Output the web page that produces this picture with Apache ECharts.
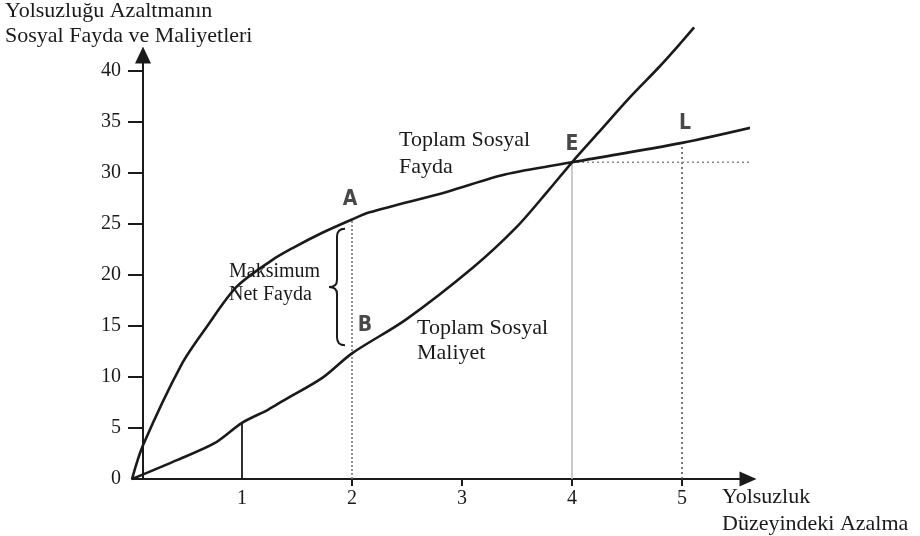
<!DOCTYPE html>
<html>
<head>
<meta charset="utf-8">
<script src="https://cdn.jsdelivr.net/npm/echarts@6/dist/echarts.min.js"></script>
<style>
  html, body { margin: 0; padding: 0; background: #fff; }
  #chart { width: 920px; height: 536px; }
</style>
</head>
<body>
<div id="chart"></div>
<script>
// tick labels
const xTickLabels = [1, 2, 3, 4, 5];
const xTickMarks = [2, 3, 4, 5];
const yTickLabels = [0, 5, 10, 15, 20, 25, 30, 35, 40];
const yTickMarks = [5, 10, 15, 20, 25, 30, 35, 40];

// curves
const totalBenefit = [
  [0, 0], [0.1, 3.3], [0.45, 11.2], [0.68, 14.9], [0.95, 18.8], [1.27, 21.4],
  [1.46, 22.6], [1.73, 24.1], [2, 25.4], [2.16, 26.1], [2.86, 28.1], [3.39, 29.8],
  [4, 31.0], [5, 32.9], [5.63, 34.4]
];
const totalCost = [
  [0, 0], [0.42, 1.9], [0.75, 3.5], [1, 5.5], [1.24, 6.8], [1.38, 7.7], [1.73, 9.9],
  [2, 12.3], [2.49, 15.6], [3.1, 20.7], [3.5, 24.7], [3.79, 28.3], [4, 31.0],
  [4.24, 33.9], [4.53, 37.4], [4.79, 40.3], [4.99, 42.7], [5.11, 44.2]
];

// guide lines
const guideAt1 = [[1, 0], [1, 5.5]];
const guideAtA = [[2, 0], [2, 25.4]];
const guideAtE = [[4, 0], [4, 31.0]];
const guideAtL = [[5, 0], [5, 32.9]];
const guideFromE = [[4, 31.0], [5.65, 31.0]];

// point letters
const pointNames = ['A', 'B', 'E', 'L'];
const pointValues = [[2, 25.4], [2, 12.3], [4, 31.0], [5, 32.9]];
const pointOffsets = [[-2, -20], [13, -28], [0, -18], [3, -19]];

// brace between A and B: [x, top, bottom]
const braceSpan = [2, 24.5, 13.1];

const serif = '"Liberation Serif", "DejaVu Serif", serif';
const ink = '#1a1a1a';

const chart = echarts.init(document.getElementById('chart'));

function guide(data, color, type, width) {
  return {
    type: 'line',
    data: data,
    symbol: 'none',
    silent: true,
    z: 1,
    clip: false,
    lineStyle: { color: color, type: type, width: width }
  };
}

chart.setOption({
  animation: false,
  grid: { left: 132, right: 172, top: 55, bottom: 57 },
  xAxis: {
    type: 'value',
    min: 0,
    max: 5.6,
    splitLine: { show: false },
    axisLine: {
      onZero: false,
      symbol: ['none', 'triangle'],
      symbolSize: [15, 17],
      lineStyle: { color: ink, width: 2 }
    },
    axisTick: { customValues: xTickMarks, length: 7, lineStyle: { color: ink, width: 2 } },
    axisLabel: {
      customValues: xTickLabels,
      margin: 10,
      color: ink,
      fontSize: 20,
      fontFamily: serif
    }
  },
  yAxis: {
    type: 'value',
    min: 0,
    max: 41.5,
    offset: -11,
    splitLine: { show: false },
    axisLine: {
      onZero: false,
      symbol: ['none', 'triangle'],
      symbolSize: [16, 17],
      lineStyle: { color: ink, width: 2 }
    },
    axisTick: { customValues: yTickMarks, length: 15, lineStyle: { color: ink, width: 2 } },
    axisLabel: {
      customValues: yTickLabels,
      margin: 22,
      color: ink,
      fontSize: 20,
      fontFamily: serif
    }
  },
  graphic: [
    { type: 'text', left: 5, top: -1, z: 1,
      style: { text: 'Yolsuzluğu Azaltmanın\nSosyal Fayda ve Maliyetleri', font: '22px ' + serif, lineHeight: 25, fill: ink } },
    { type: 'text', left: 722, top: 484, z: 1,
      style: { text: 'Yolsuzluk\nDüzeyindeki Azalma', font: '22px ' + serif, lineHeight: 27, fill: ink } },
    { type: 'text', left: 399, top: 127, z: 1,
      style: { text: 'Toplam Sosyal\nFayda', font: '22px ' + serif, lineHeight: 27, fill: ink } },
    { type: 'text', left: 417, top: 316, z: 1,
      style: { text: 'Toplam Sosyal\nMaliyet', font: '22px ' + serif, lineHeight: 25, fill: ink } },
    { type: 'text', left: 229, top: 260, z: 1,
      style: { text: 'Maksimum\nNet Fayda', font: '20px ' + serif, lineHeight: 23, fill: ink } }
  ],
  series: [
    guide(guideAt1, ink, 'solid', 1.8),
    guide(guideAtA, '#777', [2, 2], 1.6),
    guide(guideAtE, '#bdbdbd', 'solid', 1.6),
    guide(guideAtL, '#555', [2, 3], 1.6),
    guide(guideFromE, '#888', [2, 3], 1.6),
    {
      name: 'Toplam Sosyal Fayda',
      type: 'line',
      data: totalBenefit,
      symbol: 'none',
      smooth: 0.3,
      clip: false,
      z: 3,
      lineStyle: { color: ink, width: 2.6 }
    },
    {
      name: 'Toplam Sosyal Maliyet',
      type: 'line',
      data: totalCost,
      symbol: 'none',
      smooth: 0.3,
      clip: false,
      z: 3,
      lineStyle: { color: ink, width: 2.6 }
    },
    {
      type: 'scatter',
      data: pointValues.map((v, i) => ({
        value: v,
        name: pointNames[i],
        label: { offset: pointOffsets[i] }
      })),
      symbolSize: 0,
      silent: true,
      z: 4,
      label: {
        show: true,
        position: 'inside',
        formatter: p => p.name,
        color: ink,
        fontSize: 21,
        fontWeight: 900,
        fontFamily: '"DejaVu Sans Condensed", "Liberation Sans Narrow", sans-serif'
      }
    },
    {
      type: 'custom',
      data: [braceSpan],
      silent: true,
      clip: false,
      z: 3,
      renderItem: (params, api) => {
        const top = api.coord([api.value(0), api.value(1)]);
        const bot = api.coord([api.value(0), api.value(2)]);
        const tip = top[0] - 7;
        const spine = top[0] - 15;
        const point = top[0] - 23;
        const yT = top[1];
        const yB = bot[1];
        const mid = (yT + yB) / 2;
        const d = `M${tip},${yT} Q${spine},${yT} ${spine},${yT + 8} L${spine},${mid - 7} ` +
          `Q${spine},${mid} ${point},${mid} Q${spine},${mid} ${spine},${mid + 7} ` +
          `L${spine},${yB - 8} Q${spine},${yB} ${tip},${yB}`;
        return {
          type: 'path',
          shape: { pathData: d },
          style: { fill: 'none', stroke: ink, lineWidth: 2 }
        };
      }
    }
  ]
});
</script>
</body>
</html>
